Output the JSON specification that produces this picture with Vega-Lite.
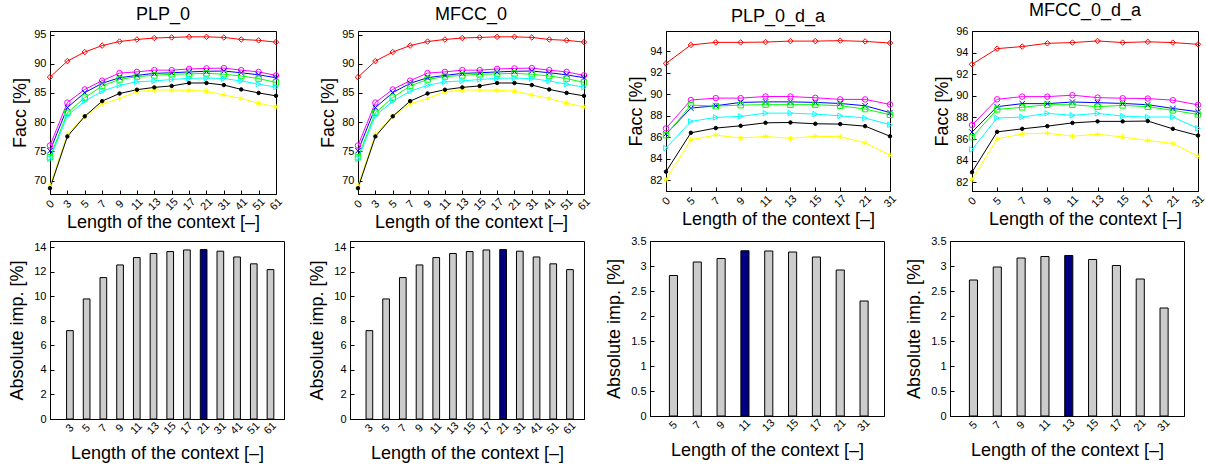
{
  "$schema": "https://vega.github.io/schema/vega-lite/v6.json",
  "autosize": {"type": "pad"},
  "padding": {"left": 8, "top": 1, "right": 4, "bottom": 2},
  "background": "white",
  "config": {
    "font": "Liberation Sans",
    "view": {"stroke": "black", "strokeWidth": 1},
    "axis": {"domainColor": "black", "tickColor": "black", "labelColor": "black", "titleColor": "black", "labelFontSize": 11, "titleFontSize": 18, "titleFontWeight": "normal", "grid": false, "tickSize": -4, "labelPadding": 8},
    "title": {"fontSize": 18, "fontWeight": "normal", "offset": 5, "color": "black"}
  },
  "datasets": {
    "lines": [
      {"panel":"PLP_0","ctx":0,"series":"red","facc":87.7},{"panel":"PLP_0","ctx":3,"series":"red","facc":90.45},{"panel":"PLP_0","ctx":5,"series":"red","facc":92.0},{"panel":"PLP_0","ctx":7,"series":"red","facc":93.1},{"panel":"PLP_0","ctx":9,"series":"red","facc":93.8},{"panel":"PLP_0","ctx":11,"series":"red","facc":94.15},{"panel":"PLP_0","ctx":13,"series":"red","facc":94.4},{"panel":"PLP_0","ctx":15,"series":"red","facc":94.5},{"panel":"PLP_0","ctx":17,"series":"red","facc":94.6},{"panel":"PLP_0","ctx":21,"series":"red","facc":94.6},{"panel":"PLP_0","ctx":31,"series":"red","facc":94.5},{"panel":"PLP_0","ctx":41,"series":"red","facc":94.15},{"panel":"PLP_0","ctx":51,"series":"red","facc":94.0},{"panel":"PLP_0","ctx":61,"series":"red","facc":93.7},
      {"panel":"PLP_0","ctx":0,"series":"magenta","facc":76.0},{"panel":"PLP_0","ctx":3,"series":"magenta","facc":83.35},{"panel":"PLP_0","ctx":5,"series":"magenta","facc":85.6},{"panel":"PLP_0","ctx":7,"series":"magenta","facc":87.1},{"panel":"PLP_0","ctx":9,"series":"magenta","facc":88.4},{"panel":"PLP_0","ctx":11,"series":"magenta","facc":88.6},{"panel":"PLP_0","ctx":13,"series":"magenta","facc":88.9},{"panel":"PLP_0","ctx":15,"series":"magenta","facc":88.9},{"panel":"PLP_0","ctx":17,"series":"magenta","facc":89.1},{"panel":"PLP_0","ctx":21,"series":"magenta","facc":89.2},{"panel":"PLP_0","ctx":31,"series":"magenta","facc":89.25},{"panel":"PLP_0","ctx":41,"series":"magenta","facc":88.9},{"panel":"PLP_0","ctx":51,"series":"magenta","facc":88.6},{"panel":"PLP_0","ctx":61,"series":"magenta","facc":88.0},
      {"panel":"PLP_0","ctx":0,"series":"blue","facc":75.1},{"panel":"PLP_0","ctx":3,"series":"blue","facc":82.5},{"panel":"PLP_0","ctx":5,"series":"blue","facc":85.05},{"panel":"PLP_0","ctx":7,"series":"blue","facc":86.65},{"panel":"PLP_0","ctx":9,"series":"blue","facc":87.6},{"panel":"PLP_0","ctx":11,"series":"blue","facc":88.0},{"panel":"PLP_0","ctx":13,"series":"blue","facc":88.35},{"panel":"PLP_0","ctx":15,"series":"blue","facc":88.45},{"panel":"PLP_0","ctx":17,"series":"blue","facc":88.6},{"panel":"PLP_0","ctx":21,"series":"blue","facc":88.7},{"panel":"PLP_0","ctx":31,"series":"blue","facc":88.75},{"panel":"PLP_0","ctx":41,"series":"blue","facc":88.45},{"panel":"PLP_0","ctx":51,"series":"blue","facc":88.1},{"panel":"PLP_0","ctx":61,"series":"blue","facc":87.6},
      {"panel":"PLP_0","ctx":0,"series":"green","facc":74.0},{"panel":"PLP_0","ctx":3,"series":"green","facc":81.6},{"panel":"PLP_0","ctx":5,"series":"green","facc":84.2},{"panel":"PLP_0","ctx":7,"series":"green","facc":86.2},{"panel":"PLP_0","ctx":9,"series":"green","facc":87.3},{"panel":"PLP_0","ctx":11,"series":"green","facc":87.8},{"panel":"PLP_0","ctx":13,"series":"green","facc":88.0},{"panel":"PLP_0","ctx":15,"series":"green","facc":88.2},{"panel":"PLP_0","ctx":17,"series":"green","facc":88.25},{"panel":"PLP_0","ctx":21,"series":"green","facc":88.35},{"panel":"PLP_0","ctx":31,"series":"green","facc":88.2},{"panel":"PLP_0","ctx":41,"series":"green","facc":87.9},{"panel":"PLP_0","ctx":51,"series":"green","facc":87.45},{"panel":"PLP_0","ctx":61,"series":"green","facc":86.8},
      {"panel":"PLP_0","ctx":0,"series":"cyan","facc":73.7},{"panel":"PLP_0","ctx":3,"series":"cyan","facc":81.1},{"panel":"PLP_0","ctx":5,"series":"cyan","facc":83.6},{"panel":"PLP_0","ctx":7,"series":"cyan","facc":85.3},{"panel":"PLP_0","ctx":9,"series":"cyan","facc":86.3},{"panel":"PLP_0","ctx":11,"series":"cyan","facc":86.9},{"panel":"PLP_0","ctx":13,"series":"cyan","facc":87.05},{"panel":"PLP_0","ctx":15,"series":"cyan","facc":87.3},{"panel":"PLP_0","ctx":17,"series":"cyan","facc":87.5},{"panel":"PLP_0","ctx":21,"series":"cyan","facc":87.55},{"panel":"PLP_0","ctx":31,"series":"cyan","facc":87.45},{"panel":"PLP_0","ctx":41,"series":"cyan","facc":87.05},{"panel":"PLP_0","ctx":51,"series":"cyan","facc":86.5},{"panel":"PLP_0","ctx":61,"series":"cyan","facc":86.0},
      {"panel":"PLP_0","ctx":0,"series":"yellow","facc":69.1},{"panel":"PLP_0","ctx":3,"series":"yellow","facc":77.95},{"panel":"PLP_0","ctx":5,"series":"yellow","facc":81.0},{"panel":"PLP_0","ctx":7,"series":"yellow","facc":83.1},{"panel":"PLP_0","ctx":9,"series":"yellow","facc":84.05},{"panel":"PLP_0","ctx":11,"series":"yellow","facc":85.2},{"panel":"PLP_0","ctx":13,"series":"yellow","facc":85.5},{"panel":"PLP_0","ctx":15,"series":"yellow","facc":85.5},{"panel":"PLP_0","ctx":17,"series":"yellow","facc":85.45},{"panel":"PLP_0","ctx":21,"series":"yellow","facc":85.3},{"panel":"PLP_0","ctx":31,"series":"yellow","facc":84.65},{"panel":"PLP_0","ctx":41,"series":"yellow","facc":84.05},{"panel":"PLP_0","ctx":51,"series":"yellow","facc":83.25},{"panel":"PLP_0","ctx":61,"series":"yellow","facc":82.6},
      {"panel":"PLP_0","ctx":0,"series":"black","facc":68.7},{"panel":"PLP_0","ctx":3,"series":"black","facc":77.55},{"panel":"PLP_0","ctx":5,"series":"black","facc":81.0},{"panel":"PLP_0","ctx":7,"series":"black","facc":83.6},{"panel":"PLP_0","ctx":9,"series":"black","facc":84.9},{"panel":"PLP_0","ctx":11,"series":"black","facc":85.55},{"panel":"PLP_0","ctx":13,"series":"black","facc":85.95},{"panel":"PLP_0","ctx":15,"series":"black","facc":86.2},{"panel":"PLP_0","ctx":17,"series":"black","facc":86.7},{"panel":"PLP_0","ctx":21,"series":"black","facc":86.7},{"panel":"PLP_0","ctx":31,"series":"black","facc":86.35},{"panel":"PLP_0","ctx":41,"series":"black","facc":85.6},{"panel":"PLP_0","ctx":51,"series":"black","facc":85.0},{"panel":"PLP_0","ctx":61,"series":"black","facc":84.5},

      {"panel":"MFCC_0","ctx":0,"series":"red","facc":87.7},{"panel":"MFCC_0","ctx":3,"series":"red","facc":90.45},{"panel":"MFCC_0","ctx":5,"series":"red","facc":92.0},{"panel":"MFCC_0","ctx":7,"series":"red","facc":93.1},{"panel":"MFCC_0","ctx":9,"series":"red","facc":93.8},{"panel":"MFCC_0","ctx":11,"series":"red","facc":94.15},{"panel":"MFCC_0","ctx":13,"series":"red","facc":94.4},{"panel":"MFCC_0","ctx":15,"series":"red","facc":94.5},{"panel":"MFCC_0","ctx":17,"series":"red","facc":94.6},{"panel":"MFCC_0","ctx":21,"series":"red","facc":94.6},{"panel":"MFCC_0","ctx":31,"series":"red","facc":94.5},{"panel":"MFCC_0","ctx":41,"series":"red","facc":94.15},{"panel":"MFCC_0","ctx":51,"series":"red","facc":94.0},{"panel":"MFCC_0","ctx":61,"series":"red","facc":93.7},
      {"panel":"MFCC_0","ctx":0,"series":"magenta","facc":76.0},{"panel":"MFCC_0","ctx":3,"series":"magenta","facc":83.35},{"panel":"MFCC_0","ctx":5,"series":"magenta","facc":85.6},{"panel":"MFCC_0","ctx":7,"series":"magenta","facc":87.1},{"panel":"MFCC_0","ctx":9,"series":"magenta","facc":88.4},{"panel":"MFCC_0","ctx":11,"series":"magenta","facc":88.6},{"panel":"MFCC_0","ctx":13,"series":"magenta","facc":88.9},{"panel":"MFCC_0","ctx":15,"series":"magenta","facc":88.9},{"panel":"MFCC_0","ctx":17,"series":"magenta","facc":89.1},{"panel":"MFCC_0","ctx":21,"series":"magenta","facc":89.2},{"panel":"MFCC_0","ctx":31,"series":"magenta","facc":89.25},{"panel":"MFCC_0","ctx":41,"series":"magenta","facc":88.9},{"panel":"MFCC_0","ctx":51,"series":"magenta","facc":88.6},{"panel":"MFCC_0","ctx":61,"series":"magenta","facc":88.0},
      {"panel":"MFCC_0","ctx":0,"series":"blue","facc":75.1},{"panel":"MFCC_0","ctx":3,"series":"blue","facc":82.5},{"panel":"MFCC_0","ctx":5,"series":"blue","facc":85.05},{"panel":"MFCC_0","ctx":7,"series":"blue","facc":86.65},{"panel":"MFCC_0","ctx":9,"series":"blue","facc":87.6},{"panel":"MFCC_0","ctx":11,"series":"blue","facc":88.0},{"panel":"MFCC_0","ctx":13,"series":"blue","facc":88.35},{"panel":"MFCC_0","ctx":15,"series":"blue","facc":88.45},{"panel":"MFCC_0","ctx":17,"series":"blue","facc":88.6},{"panel":"MFCC_0","ctx":21,"series":"blue","facc":88.7},{"panel":"MFCC_0","ctx":31,"series":"blue","facc":88.75},{"panel":"MFCC_0","ctx":41,"series":"blue","facc":88.45},{"panel":"MFCC_0","ctx":51,"series":"blue","facc":88.1},{"panel":"MFCC_0","ctx":61,"series":"blue","facc":87.6},
      {"panel":"MFCC_0","ctx":0,"series":"green","facc":74.0},{"panel":"MFCC_0","ctx":3,"series":"green","facc":81.6},{"panel":"MFCC_0","ctx":5,"series":"green","facc":84.2},{"panel":"MFCC_0","ctx":7,"series":"green","facc":86.2},{"panel":"MFCC_0","ctx":9,"series":"green","facc":87.3},{"panel":"MFCC_0","ctx":11,"series":"green","facc":87.8},{"panel":"MFCC_0","ctx":13,"series":"green","facc":88.0},{"panel":"MFCC_0","ctx":15,"series":"green","facc":88.2},{"panel":"MFCC_0","ctx":17,"series":"green","facc":88.25},{"panel":"MFCC_0","ctx":21,"series":"green","facc":88.35},{"panel":"MFCC_0","ctx":31,"series":"green","facc":88.2},{"panel":"MFCC_0","ctx":41,"series":"green","facc":87.9},{"panel":"MFCC_0","ctx":51,"series":"green","facc":87.45},{"panel":"MFCC_0","ctx":61,"series":"green","facc":86.8},
      {"panel":"MFCC_0","ctx":0,"series":"cyan","facc":73.7},{"panel":"MFCC_0","ctx":3,"series":"cyan","facc":81.1},{"panel":"MFCC_0","ctx":5,"series":"cyan","facc":83.6},{"panel":"MFCC_0","ctx":7,"series":"cyan","facc":85.3},{"panel":"MFCC_0","ctx":9,"series":"cyan","facc":86.3},{"panel":"MFCC_0","ctx":11,"series":"cyan","facc":86.9},{"panel":"MFCC_0","ctx":13,"series":"cyan","facc":87.05},{"panel":"MFCC_0","ctx":15,"series":"cyan","facc":87.3},{"panel":"MFCC_0","ctx":17,"series":"cyan","facc":87.5},{"panel":"MFCC_0","ctx":21,"series":"cyan","facc":87.55},{"panel":"MFCC_0","ctx":31,"series":"cyan","facc":87.45},{"panel":"MFCC_0","ctx":41,"series":"cyan","facc":87.05},{"panel":"MFCC_0","ctx":51,"series":"cyan","facc":86.5},{"panel":"MFCC_0","ctx":61,"series":"cyan","facc":86.0},
      {"panel":"MFCC_0","ctx":0,"series":"yellow","facc":69.1},{"panel":"MFCC_0","ctx":3,"series":"yellow","facc":77.95},{"panel":"MFCC_0","ctx":5,"series":"yellow","facc":81.0},{"panel":"MFCC_0","ctx":7,"series":"yellow","facc":83.1},{"panel":"MFCC_0","ctx":9,"series":"yellow","facc":84.05},{"panel":"MFCC_0","ctx":11,"series":"yellow","facc":85.2},{"panel":"MFCC_0","ctx":13,"series":"yellow","facc":85.5},{"panel":"MFCC_0","ctx":15,"series":"yellow","facc":85.5},{"panel":"MFCC_0","ctx":17,"series":"yellow","facc":85.45},{"panel":"MFCC_0","ctx":21,"series":"yellow","facc":85.3},{"panel":"MFCC_0","ctx":31,"series":"yellow","facc":84.65},{"panel":"MFCC_0","ctx":41,"series":"yellow","facc":84.05},{"panel":"MFCC_0","ctx":51,"series":"yellow","facc":83.25},{"panel":"MFCC_0","ctx":61,"series":"yellow","facc":82.6},
      {"panel":"MFCC_0","ctx":0,"series":"black","facc":68.7},{"panel":"MFCC_0","ctx":3,"series":"black","facc":77.55},{"panel":"MFCC_0","ctx":5,"series":"black","facc":81.0},{"panel":"MFCC_0","ctx":7,"series":"black","facc":83.6},{"panel":"MFCC_0","ctx":9,"series":"black","facc":84.9},{"panel":"MFCC_0","ctx":11,"series":"black","facc":85.55},{"panel":"MFCC_0","ctx":13,"series":"black","facc":85.95},{"panel":"MFCC_0","ctx":15,"series":"black","facc":86.2},{"panel":"MFCC_0","ctx":17,"series":"black","facc":86.7},{"panel":"MFCC_0","ctx":21,"series":"black","facc":86.7},{"panel":"MFCC_0","ctx":31,"series":"black","facc":86.35},{"panel":"MFCC_0","ctx":41,"series":"black","facc":85.6},{"panel":"MFCC_0","ctx":51,"series":"black","facc":85.0},{"panel":"MFCC_0","ctx":61,"series":"black","facc":84.5},

      {"panel":"PLP_0_d_a","ctx":0,"series":"red","facc":92.88},{"panel":"PLP_0_d_a","ctx":5,"series":"red","facc":94.6},{"panel":"PLP_0_d_a","ctx":7,"series":"red","facc":94.84},{"panel":"PLP_0_d_a","ctx":9,"series":"red","facc":94.84},{"panel":"PLP_0_d_a","ctx":11,"series":"red","facc":94.87},{"panel":"PLP_0_d_a","ctx":13,"series":"red","facc":94.96},{"panel":"PLP_0_d_a","ctx":15,"series":"red","facc":94.96},{"panel":"PLP_0_d_a","ctx":17,"series":"red","facc":95.0},{"panel":"PLP_0_d_a","ctx":21,"series":"red","facc":94.93},{"panel":"PLP_0_d_a","ctx":31,"series":"red","facc":94.78},
      {"panel":"PLP_0_d_a","ctx":0,"series":"magenta","facc":86.83},{"panel":"PLP_0_d_a","ctx":5,"series":"magenta","facc":89.47},{"panel":"PLP_0_d_a","ctx":7,"series":"magenta","facc":89.65},{"panel":"PLP_0_d_a","ctx":9,"series":"magenta","facc":89.65},{"panel":"PLP_0_d_a","ctx":11,"series":"magenta","facc":89.8},{"panel":"PLP_0_d_a","ctx":13,"series":"magenta","facc":89.8},{"panel":"PLP_0_d_a","ctx":15,"series":"magenta","facc":89.68},{"panel":"PLP_0_d_a","ctx":17,"series":"magenta","facc":89.53},{"panel":"PLP_0_d_a","ctx":21,"series":"magenta","facc":89.53},{"panel":"PLP_0_d_a","ctx":31,"series":"magenta","facc":89.06},
      {"panel":"PLP_0_d_a","ctx":0,"series":"blue","facc":86.3},{"panel":"PLP_0_d_a","ctx":5,"series":"blue","facc":88.72},{"panel":"PLP_0_d_a","ctx":7,"series":"blue","facc":88.94},{"panel":"PLP_0_d_a","ctx":9,"series":"blue","facc":89.25},{"panel":"PLP_0_d_a","ctx":11,"series":"blue","facc":89.3},{"panel":"PLP_0_d_a","ctx":13,"series":"blue","facc":89.3},{"panel":"PLP_0_d_a","ctx":15,"series":"blue","facc":89.25},{"panel":"PLP_0_d_a","ctx":17,"series":"blue","facc":89.15},{"panel":"PLP_0_d_a","ctx":21,"series":"blue","facc":88.94},{"panel":"PLP_0_d_a","ctx":31,"series":"blue","facc":88.3},
      {"panel":"PLP_0_d_a","ctx":0,"series":"green","facc":86.2},{"panel":"PLP_0_d_a","ctx":5,"series":"green","facc":89.0},{"panel":"PLP_0_d_a","ctx":7,"series":"green","facc":88.9},{"panel":"PLP_0_d_a","ctx":9,"series":"green","facc":89.0},{"panel":"PLP_0_d_a","ctx":11,"series":"green","facc":89.04},{"panel":"PLP_0_d_a","ctx":13,"series":"green","facc":89.04},{"panel":"PLP_0_d_a","ctx":15,"series":"green","facc":89.04},{"panel":"PLP_0_d_a","ctx":17,"series":"green","facc":88.94},{"panel":"PLP_0_d_a","ctx":21,"series":"green","facc":88.63},{"panel":"PLP_0_d_a","ctx":31,"series":"green","facc":88.1},
      {"panel":"PLP_0_d_a","ctx":0,"series":"cyan","facc":85.0},{"panel":"PLP_0_d_a","ctx":5,"series":"cyan","facc":87.48},{"panel":"PLP_0_d_a","ctx":7,"series":"cyan","facc":87.85},{"panel":"PLP_0_d_a","ctx":9,"series":"cyan","facc":87.95},{"panel":"PLP_0_d_a","ctx":11,"series":"cyan","facc":88.25},{"panel":"PLP_0_d_a","ctx":13,"series":"cyan","facc":88.25},{"panel":"PLP_0_d_a","ctx":15,"series":"cyan","facc":88.16},{"panel":"PLP_0_d_a","ctx":17,"series":"cyan","facc":88.0},{"panel":"PLP_0_d_a","ctx":21,"series":"cyan","facc":87.8},{"panel":"PLP_0_d_a","ctx":31,"series":"cyan","facc":87.17},
      {"panel":"PLP_0_d_a","ctx":0,"series":"yellow","facc":82.05},{"panel":"PLP_0_d_a","ctx":5,"series":"yellow","facc":85.77},{"panel":"PLP_0_d_a","ctx":7,"series":"yellow","facc":86.2},{"panel":"PLP_0_d_a","ctx":9,"series":"yellow","facc":85.93},{"panel":"PLP_0_d_a","ctx":11,"series":"yellow","facc":86.08},{"panel":"PLP_0_d_a","ctx":13,"series":"yellow","facc":85.9},{"panel":"PLP_0_d_a","ctx":15,"series":"yellow","facc":86.1},{"panel":"PLP_0_d_a","ctx":17,"series":"yellow","facc":86.05},{"panel":"PLP_0_d_a","ctx":21,"series":"yellow","facc":85.48},{"panel":"PLP_0_d_a","ctx":31,"series":"yellow","facc":84.33},
      {"panel":"PLP_0_d_a","ctx":0,"series":"black","facc":82.8},{"panel":"PLP_0_d_a","ctx":5,"series":"black","facc":86.42},{"panel":"PLP_0_d_a","ctx":7,"series":"black","facc":86.86},{"panel":"PLP_0_d_a","ctx":9,"series":"black","facc":87.07},{"panel":"PLP_0_d_a","ctx":11,"series":"black","facc":87.35},{"panel":"PLP_0_d_a","ctx":13,"series":"black","facc":87.38},{"panel":"PLP_0_d_a","ctx":15,"series":"black","facc":87.26},{"panel":"PLP_0_d_a","ctx":17,"series":"black","facc":87.23},{"panel":"PLP_0_d_a","ctx":21,"series":"black","facc":87.04},{"panel":"PLP_0_d_a","ctx":31,"series":"black","facc":86.1},

      {"panel":"MFCC_0_d_a","ctx":0,"series":"red","facc":92.92},{"panel":"MFCC_0_d_a","ctx":5,"series":"red","facc":94.37},{"panel":"MFCC_0_d_a","ctx":7,"series":"red","facc":94.56},{"panel":"MFCC_0_d_a","ctx":9,"series":"red","facc":94.86},{"panel":"MFCC_0_d_a","ctx":11,"series":"red","facc":94.93},{"panel":"MFCC_0_d_a","ctx":13,"series":"red","facc":95.08},{"panel":"MFCC_0_d_a","ctx":15,"series":"red","facc":94.93},{"panel":"MFCC_0_d_a","ctx":17,"series":"red","facc":95.0},{"panel":"MFCC_0_d_a","ctx":21,"series":"red","facc":94.93},{"panel":"MFCC_0_d_a","ctx":31,"series":"red","facc":94.77},
      {"panel":"MFCC_0_d_a","ctx":0,"series":"magenta","facc":87.3},{"panel":"MFCC_0_d_a","ctx":5,"series":"magenta","facc":89.68},{"panel":"MFCC_0_d_a","ctx":7,"series":"magenta","facc":89.93},{"panel":"MFCC_0_d_a","ctx":9,"series":"magenta","facc":89.93},{"panel":"MFCC_0_d_a","ctx":11,"series":"magenta","facc":90.06},{"panel":"MFCC_0_d_a","ctx":13,"series":"magenta","facc":89.84},{"panel":"MFCC_0_d_a","ctx":15,"series":"magenta","facc":89.78},{"panel":"MFCC_0_d_a","ctx":17,"series":"magenta","facc":89.75},{"panel":"MFCC_0_d_a","ctx":21,"series":"magenta","facc":89.6},{"panel":"MFCC_0_d_a","ctx":31,"series":"magenta","facc":89.17},
      {"panel":"MFCC_0_d_a","ctx":0,"series":"blue","facc":86.65},{"panel":"MFCC_0_d_a","ctx":5,"series":"blue","facc":89.0},{"panel":"MFCC_0_d_a","ctx":7,"series":"blue","facc":89.28},{"panel":"MFCC_0_d_a","ctx":9,"series":"blue","facc":89.28},{"panel":"MFCC_0_d_a","ctx":11,"series":"blue","facc":89.43},{"panel":"MFCC_0_d_a","ctx":13,"series":"blue","facc":89.37},{"panel":"MFCC_0_d_a","ctx":15,"series":"blue","facc":89.3},{"panel":"MFCC_0_d_a","ctx":17,"series":"blue","facc":89.18},{"panel":"MFCC_0_d_a","ctx":21,"series":"blue","facc":88.84},{"panel":"MFCC_0_d_a","ctx":31,"series":"blue","facc":88.53},
      {"panel":"MFCC_0_d_a","ctx":0,"series":"green","facc":86.18},{"panel":"MFCC_0_d_a","ctx":5,"series":"green","facc":88.75},{"panel":"MFCC_0_d_a","ctx":7,"series":"green","facc":88.94},{"panel":"MFCC_0_d_a","ctx":9,"series":"green","facc":89.18},{"panel":"MFCC_0_d_a","ctx":11,"series":"green","facc":89.18},{"panel":"MFCC_0_d_a","ctx":13,"series":"green","facc":89.0},{"panel":"MFCC_0_d_a","ctx":15,"series":"green","facc":89.12},{"panel":"MFCC_0_d_a","ctx":17,"series":"green","facc":89.0},{"panel":"MFCC_0_d_a","ctx":21,"series":"green","facc":88.66},{"panel":"MFCC_0_d_a","ctx":31,"series":"green","facc":88.28},
      {"panel":"MFCC_0_d_a","ctx":0,"series":"cyan","facc":85.04},{"panel":"MFCC_0_d_a","ctx":5,"series":"cyan","facc":87.95},{"panel":"MFCC_0_d_a","ctx":7,"series":"cyan","facc":88.04},{"panel":"MFCC_0_d_a","ctx":9,"series":"cyan","facc":88.38},{"panel":"MFCC_0_d_a","ctx":11,"series":"cyan","facc":88.2},{"panel":"MFCC_0_d_a","ctx":13,"series":"cyan","facc":88.38},{"panel":"MFCC_0_d_a","ctx":15,"series":"cyan","facc":88.13},{"panel":"MFCC_0_d_a","ctx":17,"series":"cyan","facc":88.04},{"panel":"MFCC_0_d_a","ctx":21,"series":"cyan","facc":88.04},{"panel":"MFCC_0_d_a","ctx":31,"series":"cyan","facc":86.99},
      {"panel":"MFCC_0_d_a","ctx":0,"series":"yellow","facc":82.25},{"panel":"MFCC_0_d_a","ctx":5,"series":"yellow","facc":86.02},{"panel":"MFCC_0_d_a","ctx":7,"series":"yellow","facc":86.48},{"panel":"MFCC_0_d_a","ctx":9,"series":"yellow","facc":86.55},{"panel":"MFCC_0_d_a","ctx":11,"series":"yellow","facc":86.27},{"panel":"MFCC_0_d_a","ctx":13,"series":"yellow","facc":86.45},{"panel":"MFCC_0_d_a","ctx":15,"series":"yellow","facc":86.2},{"panel":"MFCC_0_d_a","ctx":17,"series":"yellow","facc":85.87},{"panel":"MFCC_0_d_a","ctx":21,"series":"yellow","facc":85.59},{"panel":"MFCC_0_d_a","ctx":31,"series":"yellow","facc":84.42},
      {"panel":"MFCC_0_d_a","ctx":0,"series":"black","facc":82.94},{"panel":"MFCC_0_d_a","ctx":5,"series":"black","facc":86.67},{"panel":"MFCC_0_d_a","ctx":7,"series":"black","facc":86.95},{"panel":"MFCC_0_d_a","ctx":9,"series":"black","facc":87.2},{"panel":"MFCC_0_d_a","ctx":11,"series":"black","facc":87.5},{"panel":"MFCC_0_d_a","ctx":13,"series":"black","facc":87.64},{"panel":"MFCC_0_d_a","ctx":15,"series":"black","facc":87.64},{"panel":"MFCC_0_d_a","ctx":17,"series":"black","facc":87.67},{"panel":"MFCC_0_d_a","ctx":21,"series":"black","facc":86.95},{"panel":"MFCC_0_d_a","ctx":31,"series":"black","facc":86.33}
    ],
    "bars": [
      {"panel":"PLP_0","ctx":3,"imp":7.2,"best":false},{"panel":"PLP_0","ctx":5,"imp":9.78,"best":false},{"panel":"PLP_0","ctx":7,"imp":11.52,"best":false},{"panel":"PLP_0","ctx":9,"imp":12.55,"best":false},{"panel":"PLP_0","ctx":11,"imp":13.15,"best":false},{"panel":"PLP_0","ctx":13,"imp":13.48,"best":false},{"panel":"PLP_0","ctx":15,"imp":13.64,"best":false},{"panel":"PLP_0","ctx":17,"imp":13.77,"best":false},{"panel":"PLP_0","ctx":21,"imp":13.8,"best":true},{"panel":"PLP_0","ctx":31,"imp":13.67,"best":false},{"panel":"PLP_0","ctx":41,"imp":13.2,"best":false},{"panel":"PLP_0","ctx":51,"imp":12.64,"best":false},{"panel":"PLP_0","ctx":61,"imp":12.17,"best":false},
      {"panel":"MFCC_0","ctx":3,"imp":7.2,"best":false},{"panel":"MFCC_0","ctx":5,"imp":9.78,"best":false},{"panel":"MFCC_0","ctx":7,"imp":11.52,"best":false},{"panel":"MFCC_0","ctx":9,"imp":12.55,"best":false},{"panel":"MFCC_0","ctx":11,"imp":13.15,"best":false},{"panel":"MFCC_0","ctx":13,"imp":13.48,"best":false},{"panel":"MFCC_0","ctx":15,"imp":13.64,"best":false},{"panel":"MFCC_0","ctx":17,"imp":13.77,"best":false},{"panel":"MFCC_0","ctx":21,"imp":13.8,"best":true},{"panel":"MFCC_0","ctx":31,"imp":13.67,"best":false},{"panel":"MFCC_0","ctx":41,"imp":13.2,"best":false},{"panel":"MFCC_0","ctx":51,"imp":12.64,"best":false},{"panel":"MFCC_0","ctx":61,"imp":12.17,"best":false},
      {"panel":"PLP_0_d_a","ctx":5,"imp":2.81,"best":false},{"panel":"PLP_0_d_a","ctx":7,"imp":3.08,"best":false},{"panel":"PLP_0_d_a","ctx":9,"imp":3.15,"best":false},{"panel":"PLP_0_d_a","ctx":11,"imp":3.305,"best":true},{"panel":"PLP_0_d_a","ctx":13,"imp":3.3,"best":false},{"panel":"PLP_0_d_a","ctx":15,"imp":3.28,"best":false},{"panel":"PLP_0_d_a","ctx":17,"imp":3.18,"best":false},{"panel":"PLP_0_d_a","ctx":21,"imp":2.92,"best":false},{"panel":"PLP_0_d_a","ctx":31,"imp":2.3,"best":false},
      {"panel":"MFCC_0_d_a","ctx":5,"imp":2.72,"best":false},{"panel":"MFCC_0_d_a","ctx":7,"imp":2.98,"best":false},{"panel":"MFCC_0_d_a","ctx":9,"imp":3.16,"best":false},{"panel":"MFCC_0_d_a","ctx":11,"imp":3.19,"best":false},{"panel":"MFCC_0_d_a","ctx":13,"imp":3.21,"best":true},{"panel":"MFCC_0_d_a","ctx":15,"imp":3.13,"best":false},{"panel":"MFCC_0_d_a","ctx":17,"imp":3.01,"best":false},{"panel":"MFCC_0_d_a","ctx":21,"imp":2.74,"best":false},{"panel":"MFCC_0_d_a","ctx":31,"imp":2.16,"best":false}
    ]
  },
  "spacing": 1,
  "vconcat": [
    {
      "bounds": "flush",
      "spacing": 82,
      "hconcat": [
        {
          "title": "PLP_0", "width": 226, "height": 163,
          "data": {"name": "lines"},
          "transform": [{"filter": "datum.panel === 'PLP_0'"}],
          "encoding": {
            "x": {"field": "ctx", "type": "ordinal", "scale": {"type": "point", "padding": 0}, "axis": {"title": "Length of the context [–]", "labelAngle": -45, "labelAlign": "center", "labelBaseline": "middle", "labelPadding": 14, "titlePadding": 2}},
            "y": {"field": "facc", "type": "quantitative", "scale": {"domain": [67.7, 95.6], "nice": false, "zero": false}, "axis": {"title": "Facc [%]", "values": [70, 75, 80, 85, 90, 95], "titlePadding": 4}},
            "color": {"field": "series", "type": "nominal", "scale": {"domain": ["red","magenta","blue","green","cyan","yellow","black"], "range": ["#ff0000","#ff00ff","#0000ff","#00ff00","#00ffff","#ffff00","#000000"]}, "legend": null}
          },
          "layer": [
            {"mark": {"type": "line", "strokeWidth": 1}},
            {"mark": {"type": "point", "filled": false, "strokeWidth": 1, "opacity": 1},
             "encoding": {
               "shape": {"field": "series", "type": "nominal", "scale": {"domain": ["red","magenta","blue","green","cyan","yellow","black"], "range": ["diamond","circle","M-1,-1L1,1M-1,1L1,-1","square","triangle-right","M0,-1L0,1M-0.87,-0.5L0.87,0.5M-0.87,0.5L0.87,-0.5","circle"]}, "legend": null},
               "fill": {"condition": {"test": "datum.series === 'black'", "value": "#000000"}, "value": "transparent"},
               "size": {"condition": {"test": "datum.series === 'black'", "value": 12}, "value": 30}
             }}
          ]
        },
        {
          "title": "MFCC_0", "width": 226, "height": 163,
          "data": {"name": "lines"},
          "transform": [{"filter": "datum.panel === 'MFCC_0'"}],
          "encoding": {
            "x": {"field": "ctx", "type": "ordinal", "scale": {"type": "point", "padding": 0}, "axis": {"title": "Length of the context [–]", "labelAngle": -45, "labelAlign": "center", "labelBaseline": "middle", "labelPadding": 14, "titlePadding": 2}},
            "y": {"field": "facc", "type": "quantitative", "scale": {"domain": [67.7, 95.6], "nice": false, "zero": false}, "axis": {"title": "Facc [%]", "values": [70, 75, 80, 85, 90, 95], "titlePadding": 4}},
            "color": {"field": "series", "type": "nominal", "scale": {"domain": ["red","magenta","blue","green","cyan","yellow","black"], "range": ["#ff0000","#ff00ff","#0000ff","#00ff00","#00ffff","#ffff00","#000000"]}, "legend": null}
          },
          "layer": [
            {"mark": {"type": "line", "strokeWidth": 1}},
            {"mark": {"type": "point", "filled": false, "strokeWidth": 1, "opacity": 1},
             "encoding": {
               "shape": {"field": "series", "type": "nominal", "scale": {"domain": ["red","magenta","blue","green","cyan","yellow","black"], "range": ["diamond","circle","M-1,-1L1,1M-1,1L1,-1","square","triangle-right","M0,-1L0,1M-0.87,-0.5L0.87,0.5M-0.87,0.5L0.87,-0.5","circle"]}, "legend": null},
               "fill": {"condition": {"test": "datum.series === 'black'", "value": "#000000"}, "value": "transparent"},
               "size": {"condition": {"test": "datum.series === 'black'", "value": 12}, "value": 30}
             }}
          ]
        },
        {
          "title": "PLP_0_d_a", "width": 224, "height": 160,
          "data": {"name": "lines"},
          "transform": [{"filter": "datum.panel === 'PLP_0_d_a'"}],
          "encoding": {
            "x": {"field": "ctx", "type": "ordinal", "scale": {"type": "point", "padding": 0}, "axis": {"title": "Length of the context [–]", "labelAngle": -45, "labelAlign": "center", "labelBaseline": "middle", "labelPadding": 14, "titlePadding": 2}},
            "y": {"field": "facc", "type": "quantitative", "scale": {"domain": [81.0, 95.9], "nice": false, "zero": false}, "axis": {"title": "Facc [%]", "values": [82, 84, 86, 88, 90, 92, 94], "titlePadding": 4}},
            "color": {"field": "series", "type": "nominal", "scale": {"domain": ["red","magenta","blue","green","cyan","yellow","black"], "range": ["#ff0000","#ff00ff","#0000ff","#00ff00","#00ffff","#ffff00","#000000"]}, "legend": null}
          },
          "layer": [
            {"mark": {"type": "line", "strokeWidth": 1}},
            {"mark": {"type": "point", "filled": false, "strokeWidth": 1, "opacity": 1},
             "encoding": {
               "shape": {"field": "series", "type": "nominal", "scale": {"domain": ["red","magenta","blue","green","cyan","yellow","black"], "range": ["diamond","circle","M-1,-1L1,1M-1,1L1,-1","square","triangle-right","M0,-1L0,1M-0.87,-0.5L0.87,0.5M-0.87,0.5L0.87,-0.5","circle"]}, "legend": null},
               "fill": {"condition": {"test": "datum.series === 'black'", "value": "#000000"}, "value": "transparent"},
               "size": {"condition": {"test": "datum.series === 'black'", "value": 12}, "value": 30}
             }}
          ]
        },
        {
          "title": "MFCC_0_d_a", "width": 226, "height": 160,
          "data": {"name": "lines"},
          "transform": [{"filter": "datum.panel === 'MFCC_0_d_a'"}],
          "encoding": {
            "x": {"field": "ctx", "type": "ordinal", "scale": {"type": "point", "padding": 0}, "axis": {"title": "Length of the context [–]", "labelAngle": -45, "labelAlign": "center", "labelBaseline": "middle", "labelPadding": 14, "titlePadding": 2}},
            "y": {"field": "facc", "type": "quantitative", "scale": {"domain": [81.2, 96.0], "nice": false, "zero": false}, "axis": {"title": "Facc [%]", "values": [82, 84, 86, 88, 90, 92, 94, 96], "titlePadding": 4}},
            "color": {"field": "series", "type": "nominal", "scale": {"domain": ["red","magenta","blue","green","cyan","yellow","black"], "range": ["#ff0000","#ff00ff","#0000ff","#00ff00","#00ffff","#ffff00","#000000"]}, "legend": null}
          },
          "layer": [
            {"mark": {"type": "line", "strokeWidth": 1}},
            {"mark": {"type": "point", "filled": false, "strokeWidth": 1, "opacity": 1},
             "encoding": {
               "shape": {"field": "series", "type": "nominal", "scale": {"domain": ["red","magenta","blue","green","cyan","yellow","black"], "range": ["diamond","circle","M-1,-1L1,1M-1,1L1,-1","square","triangle-right","M0,-1L0,1M-0.87,-0.5L0.87,0.5M-0.87,0.5L0.87,-0.5","circle"]}, "legend": null},
               "fill": {"condition": {"test": "datum.series === 'black'", "value": "#000000"}, "value": "transparent"},
               "size": {"condition": {"test": "datum.series === 'black'", "value": 12}, "value": 30}
             }}
          ]
        }
      ]
    },
    {
      "bounds": "flush",
      "spacing": 66,
      "hconcat": [
        {
          "width": 234, "height": 178,
          "data": {"name": "bars"},
          "transform": [{"filter": "datum.panel === 'PLP_0'"}],
          "mark": {"type": "bar", "stroke": "black", "strokeWidth": 1},
          "encoding": {
            "x": {"field": "ctx", "type": "ordinal", "scale": {"paddingInner": 0.6, "paddingOuter": 0.8, "align": 0.62}, "axis": {"title": "Length of the context [–]", "labelAngle": -45, "labelAlign": "center", "labelBaseline": "middle", "ticks": false, "labelPadding": 9, "titlePadding": 9}},
            "y": {"field": "imp", "type": "quantitative", "scale": {"domain": [0, 14.5], "nice": false}, "axis": {"title": "Absolute imp. [%]", "values": [0, 2, 4, 6, 8, 10, 12, 14], "titlePadding": 7}},
            "color": {"condition": {"test": "datum.best", "value": "#000080"}, "value": "#cccccc"}
          }
        },
        {
          "width": 234, "height": 178,
          "data": {"name": "bars"},
          "transform": [{"filter": "datum.panel === 'MFCC_0'"}],
          "mark": {"type": "bar", "stroke": "black", "strokeWidth": 1},
          "encoding": {
            "x": {"field": "ctx", "type": "ordinal", "scale": {"paddingInner": 0.6, "paddingOuter": 0.8, "align": 0.6}, "axis": {"title": "Length of the context [–]", "labelAngle": -45, "labelAlign": "center", "labelBaseline": "middle", "ticks": false, "labelPadding": 9, "titlePadding": 9}},
            "y": {"field": "imp", "type": "quantitative", "scale": {"domain": [0, 14.5], "nice": false}, "axis": {"title": "Absolute imp. [%]", "values": [0, 2, 4, 6, 8, 10, 12, 14], "titlePadding": 7}},
            "color": {"condition": {"test": "datum.best", "value": "#000080"}, "value": "#cccccc"}
          }
        },
        {
          "width": 234, "height": 175,
          "data": {"name": "bars"},
          "transform": [{"filter": "datum.panel === 'PLP_0_d_a'"}],
          "mark": {"type": "bar", "stroke": "black", "strokeWidth": 1},
          "encoding": {
            "x": {"field": "ctx", "type": "ordinal", "scale": {"paddingInner": 0.66, "paddingOuter": 0.74, "align": 0.55}, "axis": {"title": "Length of the context [–]", "labelAngle": -45, "labelAlign": "center", "labelBaseline": "middle", "ticks": false, "labelPadding": 9, "titlePadding": 9}},
            "y": {"field": "imp", "type": "quantitative", "scale": {"domain": [0, 3.5], "nice": false}, "axis": {"title": "Absolute imp. [%]", "values": [0, 0.5, 1, 1.5, 2, 2.5, 3, 3.5], "format": "~g", "titlePadding": 7}},
            "color": {"condition": {"test": "datum.best", "value": "#000080"}, "value": "#cccccc"}
          }
        },
        {
          "width": 234, "height": 175,
          "data": {"name": "bars"},
          "transform": [{"filter": "datum.panel === 'MFCC_0_d_a'"}],
          "mark": {"type": "bar", "stroke": "black", "strokeWidth": 1},
          "encoding": {
            "x": {"field": "ctx", "type": "ordinal", "scale": {"paddingInner": 0.66, "paddingOuter": 0.74, "align": 0.55}, "axis": {"title": "Length of the context [–]", "labelAngle": -45, "labelAlign": "center", "labelBaseline": "middle", "ticks": false, "labelPadding": 9, "titlePadding": 9}},
            "y": {"field": "imp", "type": "quantitative", "scale": {"domain": [0, 3.5], "nice": false}, "axis": {"title": "Absolute imp. [%]", "values": [0, 0.5, 1, 1.5, 2, 2.5, 3, 3.5], "format": "~g", "titlePadding": 7}},
            "color": {"condition": {"test": "datum.best", "value": "#000080"}, "value": "#cccccc"}
          }
        }
      ]
    }
  ]
}
